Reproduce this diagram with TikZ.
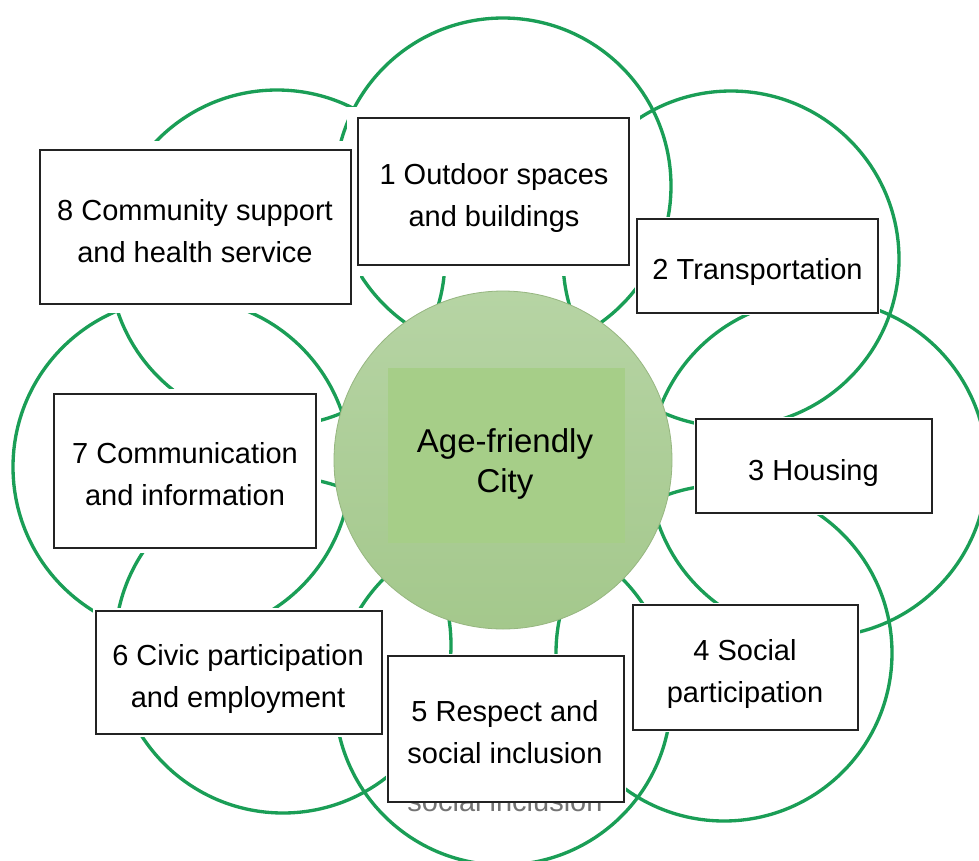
\documentclass[tikz,border=0pt]{standalone}
\usepackage{fontspec}
\setmainfont{Liberation Sans}
\usetikzlibrary{fit}
\pgfdeclarelayer{rings}
\pgfdeclarelayer{halo}
\pgfsetlayers{rings,halo,main}
\definecolor{ringgreen}{RGB}{26,158,86}
\definecolor{boxline}{RGB}{35,35,35}
\definecolor{hubtop}{RGB}{182,212,164}
\definecolor{hubbot}{RGB}{164,200,140}
\definecolor{hubline}{RGB}{150,182,128}
\definecolor{hubrect}{RGB}{166,206,136}
\begin{document}
\begin{tikzpicture}[x=0.75pt,y=-0.75pt,
  ring/.style={draw=ringgreen,line width=2.5pt},
  box/.style={rectangle,draw=boxline,line width=1.1pt,fill=white,inner sep=0pt},
  lbl/.style={align=center,inner sep=0pt,font=\fontsize{21.75}{31.5}\selectfont},
  halofill/.style={fill=white,draw=none},
]
\useasboundingbox (0,0) rectangle (979,861);
\begin{pgfonlayer}{rings}
\fill[white] (0,0) rectangle (979,861);
\clip (0,0) rectangle (979,861);
% outer rings
\draw[ring] (503,186) circle [radius=168];
\draw[ring] (731,259) circle [radius=168];
\draw[ring] (818,468) circle [radius=169];
\draw[ring] (724,653) circle [radius=168];
\draw[ring] (503,697) circle [radius=168];
\draw[ring] (283,645) circle [radius=168];
\draw[ring] (182,467) circle [radius=169];
\draw[ring] (277,258) circle [radius=168];
\end{pgfonlayer}
% hub
\node[circle, minimum size=253.5pt, inner sep=0pt, top color=hubtop, bottom color=hubbot,
      draw=hubline, line width=0.6pt] (hub) at (503,460) {};
\node[fill=hubrect, minimum width=177.75pt, minimum height=131.25pt, inner sep=0pt]
      (hubrect) at (506.5,455.5) {};
\node[align=center, inner sep=0pt, font=\fontsize{24.75}{30}\selectfont] (hubtext)
      at (505,464) {\strut Age-friendly\\\strut City};
% boxes
\node[box, fit={(358,118) (629,265)}] (b1) {};
\node[box, fit={(40,150) (351,304)}] (b8) {};
\node[box, fit={(54,394) (316,548)}] (b7) {};
\node[box, fit={(96,611) (382,734)}] (b6) {};
\node[box, fit={(637,219) (878,313)}] (b2) {};
\node[box, fit={(696,419) (932,513)}] (b3) {};
\node[box, fit={(633,605) (858,730)}] (b4) {};
\node[anchor=base, inner sep=0pt, text=black!55, font=\fontsize{21.75}{31.5}\selectfont]
      (ghost) at (505,811) {social inclusion};
\node[box, fit={(388,656) (624,802)}] (b5) {};
% white margins round the boxes
\begin{pgfonlayer}{halo}
\fill[halofill] ([shift={(-10,-10)}]b1.north west) rectangle ([shift={(10,10)}]b1.south east);
\fill[halofill] ([shift={(-8,-8)}]b8.north west) rectangle ([shift={(8,8)}]b8.south east);
\fill[halofill] ([shift={(-4,-4)}]b7.north west) rectangle ([shift={(4,4)}]b7.south east);
\fill[halofill] ([shift={(-2,-2)}]b6.north west) rectangle ([shift={(2,2)}]b6.south east);
\fill[halofill] ([shift={(-1.5,-1.5)}]b2.north west) rectangle ([shift={(1.5,1.5)}]b2.south east);
\fill[halofill] ([shift={(-1.5,-1.5)}]b3.north west) rectangle ([shift={(1.5,1.5)}]b3.south east);
\fill[halofill] ([shift={(-1.5,-1.5)}]b4.north west) rectangle ([shift={(1.5,1.5)}]b4.south east);
\fill[halofill] ([shift={(-1,-1)}]b5.north west) rectangle ([shift={(1,1)}]b5.south east);
\end{pgfonlayer}
% labels
\node[lbl] (t1) at (494,197) {\strut 1 Outdoor spaces\\\strut and buildings};
\node[lbl] (t2) at (757.5,271) {\strut 2 Transportation};
\node[lbl] (t3) at (813.5,472) {\strut 3 Housing};
\node[lbl] (t4) at (745,673.5) {\strut 4 Social\\\strut participation};
\node[lbl] (t5) at (505,734) {\strut 5 Respect and\\\strut social inclusion};
\node[lbl] (t6) at (238,678.5) {\strut 6 Civic participation\\\strut and employment};
\node[lbl] (t7) at (185,476) {\strut 7 Communication\\\strut and information};
\node[lbl] (t8) at (195,233) {\strut 8 Community support\\\strut and health service};
\end{tikzpicture}
\end{document}
